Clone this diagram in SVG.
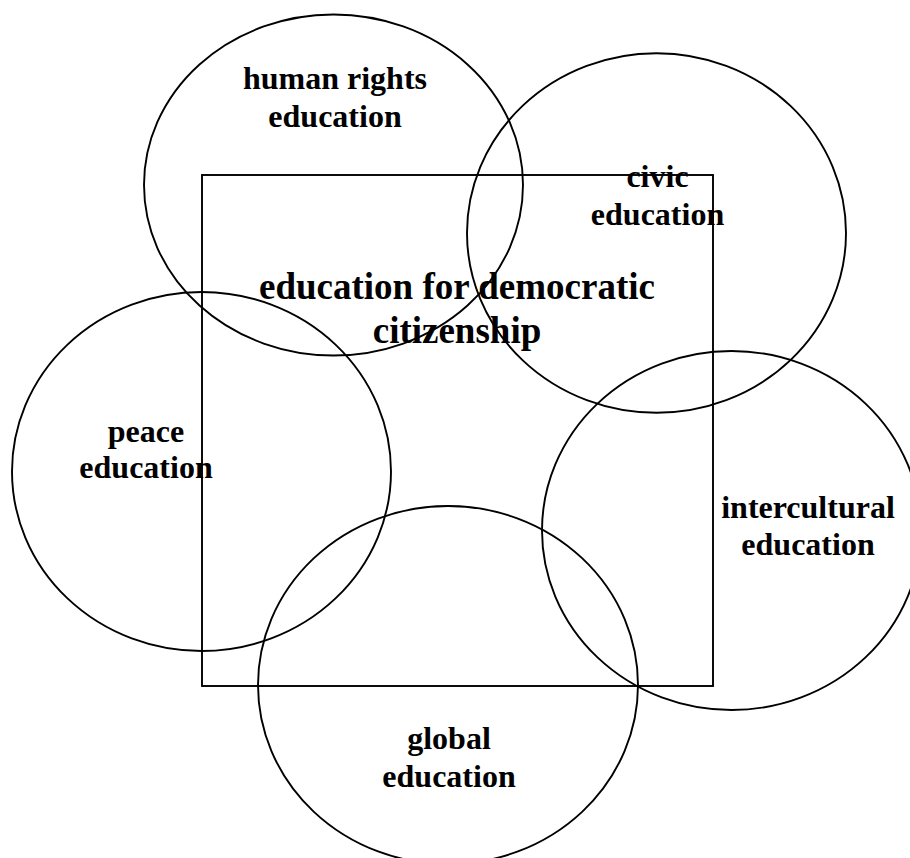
<svg xmlns="http://www.w3.org/2000/svg" width="910" height="858" viewBox="0 0 910 858">
<style>
.shape{fill:none;stroke:#000;stroke-width:1.9}
.lbl{font-family:"Liberation Serif","Times New Roman",serif;font-weight:bold;font-size:32px;fill:#000;text-anchor:middle}
.title{font-size:37px}
</style>
<rect width="910" height="858" fill="#fff"/>
<g id="edc">
<rect class="shape" x="202" y="175" width="511" height="511"/>
<text class="lbl title" x="457" y="299">education for democratic</text>
<text class="lbl title" x="457" y="343">citizenship</text>
</g>
<g id="human-rights">
<ellipse class="shape" cx="333.5" cy="185" rx="189.5" ry="170.5"/>
<text class="lbl" x="335" y="89">human rights</text>
<text class="lbl" x="335" y="127">education</text>
</g>
<g id="civic">
<ellipse class="shape" cx="656.5" cy="233" rx="189.5" ry="179.7"/>
<text class="lbl" x="657.5" y="187">civic</text>
<text class="lbl" x="657.5" y="225">education</text>
</g>
<g id="peace">
<ellipse class="shape" cx="201.5" cy="471.5" rx="189.5" ry="179.5"/>
<text class="lbl" x="146" y="442">peace</text>
<text class="lbl" x="146" y="478">education</text>
</g>
<g id="intercultural">
<ellipse class="shape" cx="731.5" cy="530.5" rx="189.5" ry="179.5"/>
<text class="lbl" x="808" y="518">intercultural</text>
<text class="lbl" x="808" y="555">education</text>
</g>
<g id="global">
<ellipse class="shape" cx="448" cy="685" rx="190" ry="179"/>
<text class="lbl" x="449" y="749">global</text>
<text class="lbl" x="449" y="787">education</text>
</g>
<g id="connectors"></g>
</svg>
